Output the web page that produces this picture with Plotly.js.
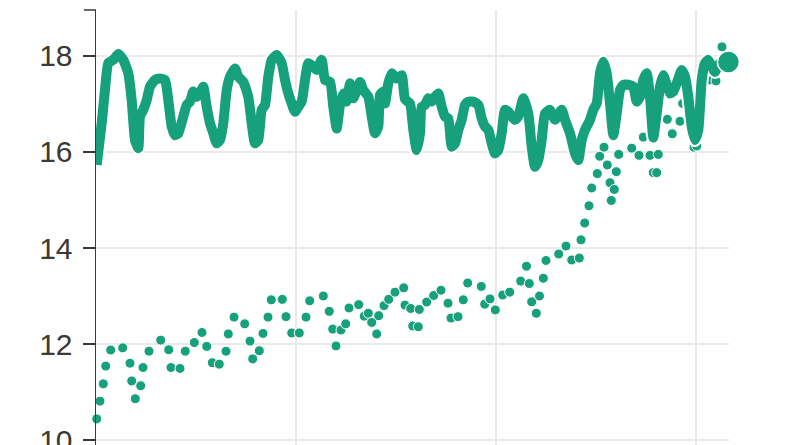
<!DOCTYPE html>
<html>
<head>
<meta charset="utf-8">
<script src="https://cdn.plot.ly/plotly-3.0.1.min.js"></script>
<style>html,body{margin:0;padding:0;background:#fff;}#chart{width:800px;height:445px;}</style>
</head>
<body>
<div id="chart"></div>
<script>
// Smoothed series (thick line)
const lineYears = [1990.035,1990.285,1990.45,1990.615,1990.865,1991.115,1991.365,1991.615,1991.785,1991.95,1992.115,1992.2,1992.365,1992.535,1992.7,1992.95,1993.2,1993.45,1993.615,1993.785,1993.95,1994.115,1994.365,1994.535,1994.7,1994.865,1995.035,1995.2,1995.365,1995.535,1995.7,1995.865,1996.035,1996.2,1996.365,1996.535,1996.7,1996.95,1997.115,1997.365,1997.615,1997.785,1997.95,1998.115,1998.285,1998.45,1998.615,1998.785,1999.035,1999.285,1999.45,1999.615,1999.785,1999.95,2000.115,2000.285,2000.45,2000.615,2000.865,2001.035,2001.285,2001.45,2001.7,2001.865,2002.035,2002.2,2002.365,2002.535,2002.7,2002.865,2003.035,2003.2,2003.365,2003.615,2003.785,2003.95,2004.115,2004.2,2004.365,2004.45,2004.615,2004.785,2005.035,2005.285,2005.45,2005.7,2005.865,2006.035,2006.2,2006.285,2006.45,2006.615,2006.785,2006.95,2007.115,2007.285,2007.45,2007.615,2007.785,2007.95,2008.115,2008.285,2008.45,2008.615,2008.865,2009.115,2009.285,2009.45,2009.615,2009.785,2009.95,2010.115,2010.285,2010.45,2010.615,2010.785,2010.95,2011.115,2011.365,2011.615,2011.785,2011.95,2012.115,2012.285,2012.45,2012.7,2012.95,2013.285,2013.45,2013.7,2013.95,2014.115,2014.285,2014.45,2014.7,2014.865,2015.035,2015.2,2015.365,2015.535,2015.7,2015.865,2016.035,2016.2,2016.365,2016.615,2016.865,2017.035,2017.2,2017.365,2017.535,2017.7,2017.865,2018.035,2018.2,2018.365,2018.535,2018.7,2018.865,2019.035,2019.285,2019.45,2019.615,2019.785,2019.95,2020.115,2020.285,2020.45,2020.615,2020.785,2020.95,2021.115,2021.4,2021.62];
const lineValues = [15.73,16.6,17.3,17.85,17.92,18.04,17.92,17.64,17.08,16.25,16.08,16.74,16.88,17.08,17.36,17.5,17.53,17.5,17.08,16.53,16.35,16.39,16.74,16.98,17.05,17.26,17.15,17.22,17.36,16.94,16.6,16.39,16.18,16.25,16.6,17.29,17.57,17.74,17.57,17.46,17.15,16.6,16.18,16.25,16.88,16.98,17.57,17.92,18.02,17.85,17.5,17.22,17.01,16.84,16.94,17.05,17.5,17.85,17.78,17.71,17.92,17.5,17.46,16.94,16.49,16.98,17.22,17.05,17.43,17.12,17.29,17.46,17.29,17.15,16.74,16.39,16.53,17.19,17.26,17.01,17.43,17.64,17.53,17.6,17.1,17.01,16.46,16.04,16.39,16.94,16.98,17.12,17.05,17.15,17.22,16.94,16.74,16.7,16.11,16.18,16.46,16.67,16.98,17.05,17.05,16.98,16.7,16.53,16.46,16.18,15.97,16.04,16.39,16.88,16.84,16.74,16.67,16.74,17.12,16.8,16.11,15.69,15.83,16.25,16.8,16.88,16.67,16.88,16.67,16.39,15.97,15.83,16.25,16.46,16.67,16.88,17.01,17.64,17.88,17.64,17.01,16.35,16.8,17.29,17.4,17.4,17.36,17.05,17.15,17.5,17.64,17.15,16.3,16.8,17.36,17.6,17.4,17.22,17.26,17.43,17.71,17.57,17.15,16.53,16.25,16.46,17.5,17.85,17.92,17.78,17.67,17.81,17.92,17.875];

// Raw observations (dots)
const dotYears = [1990.035,1990.2,1990.365,1990.485,1990.735,1991.335,1991.7,1991.785,1991.965,1992.235,1992.35,1992.65,1993.235,1993.635,1993.75,1994.2,1994.465,1994.915,1995.3,1995.535,1995.815,1996.165,1996.5,1996.615,1996.9,1997.435,1997.7,1997.835,1998.165,1998.35,1998.6,1998.765,1999.315,1999.5,1999.785,2000.165,2000.5,2000.685,2001.365,2001.665,2001.835,2002.0,2002.25,2002.485,2002.65,2003.135,2003.415,2003.615,2003.785,2004.035,2004.135,2004.4,2004.635,2004.95,2005.385,2005.45,2005.735,2005.835,2006.115,2006.165,2006.535,2006.885,2007.25,2007.6,2007.75,2008.1,2008.365,2008.585,2009.265,2009.435,2009.7,2009.965,2010.335,2010.685,2011.235,2011.525,2011.665,2011.785,2012.015,2012.175,2012.365,2012.5,2013.135,2013.5,2013.785,2014.165,2014.25,2014.435,2014.65,2014.785,2015.065,2015.185,2015.4,2015.565,2015.7,2015.765,2015.915,2016.015,2016.135,2016.785,2017.15,2017.365,2017.7,2017.865,2018.035,2018.115,2018.565,2018.815,2019.2,2019.335,2019.9,2020.035,2020.7,2021.0,2021.3];
const dotValues = [10.44,10.81,11.17,11.54,11.875,11.92,11.6,11.23,10.86,11.13,11.51,11.85,12.08,11.88,11.51,11.49,11.85,12.03,12.24,11.95,11.61,11.58,11.85,12.21,12.56,12.42,12.06,11.69,11.86,12.22,12.56,12.92,12.93,12.57,12.23,12.23,12.56,12.9,13.0,12.68,12.31,11.96,12.29,12.42,12.75,12.82,12.58,12.64,12.45,12.21,12.59,12.8,12.93,13.08,13.17,12.81,12.74,12.375,12.36,12.72,12.875,13.01,13.12,12.85,12.54,12.57,12.92,13.27,13.2,12.83,12.94,12.71,13.02,13.08,13.31,13.62,13.26,12.88,12.64,13.0,13.37,13.74,13.875,14.04,13.75,13.79,14.17,14.52,14.88,15.25,15.55,15.91,16.1,15.73,15.36,14.99,15.22,15.59,15.95,16.08,15.93,16.31,15.93,15.57,15.57,15.95,16.68,16.38,16.64,17.01,16.1,16.125,17.5,17.48,18.19];

const yTicks = [10, 12, 14, 16, 18];
const xGrid = [2000, 2010, 2020];

const green = '#17a07c';
const ink = '#3c3833';

const traces = [
  {x: dotYears, y: dotValues, type: 'scatter', mode: 'markers', cliponaxis: false,
   marker: {color: green, size: 10, line: {color: '#ffffff', width: 1}}, hoverinfo: 'skip'},
  {x: lineYears, y: lineValues, type: 'scatter', mode: 'lines',
   line: {color: '#ffffff', width: 14, shape: 'spline', smoothing: 0.5}, hoverinfo: 'skip'},
  {x: lineYears, y: lineValues, type: 'scatter', mode: 'lines',
   line: {color: green, width: 10, shape: 'spline', smoothing: 0.5}},
  {x: [lineYears[lineYears.length-1]], y: [lineValues[lineValues.length-1]], type: 'scatter', mode: 'markers', cliponaxis: false,
   marker: {color: green, size: 22, line: {color: '#ffffff', width: 1.5}}}
];

const layout = {
  width: 800, height: 445,
  margin: {l: 96, r: 71, t: 10, b: 0, pad: 0},
  paper_bgcolor: '#ffffff', plot_bgcolor: '#ffffff',
  showlegend: false,
  xaxis: {
    range: [1990, 2021.65], tickvals: xGrid, showticklabels: false, ticks: '',
    showgrid: true, gridcolor: '#e9e9e9', gridwidth: 1.5, zeroline: false, showline: false, fixedrange: true
  },
  yaxis: {
    range: [9.896, 18.958], tickvals: yTicks, ticktext: yTicks.map(String),
    showgrid: true, gridcolor: '#e9e9e9', gridwidth: 1.5, zeroline: false,
    showline: true, linecolor: ink, linewidth: 1.5,
    ticks: 'outside', ticklen: 12, tickwidth: 1.5, tickcolor: ink,
    tickfont: {family: 'Liberation Sans, Arial, sans-serif', size: 30, color: ink},
    ticklabelstandoff: 4, ticklabeloverflow: 'allow', fixedrange: true
  },
  shapes: [
    {type: 'line', xref: 'paper', yref: 'paper', x0: -12/633, x1: 0, y0: 1, y1: 1,
     line: {color: ink, width: 1.5}}
  ]
};

Plotly.newPlot('chart', traces, layout, {displayModeBar: false, staticPlot: true});
</script>
</body>
</html>
